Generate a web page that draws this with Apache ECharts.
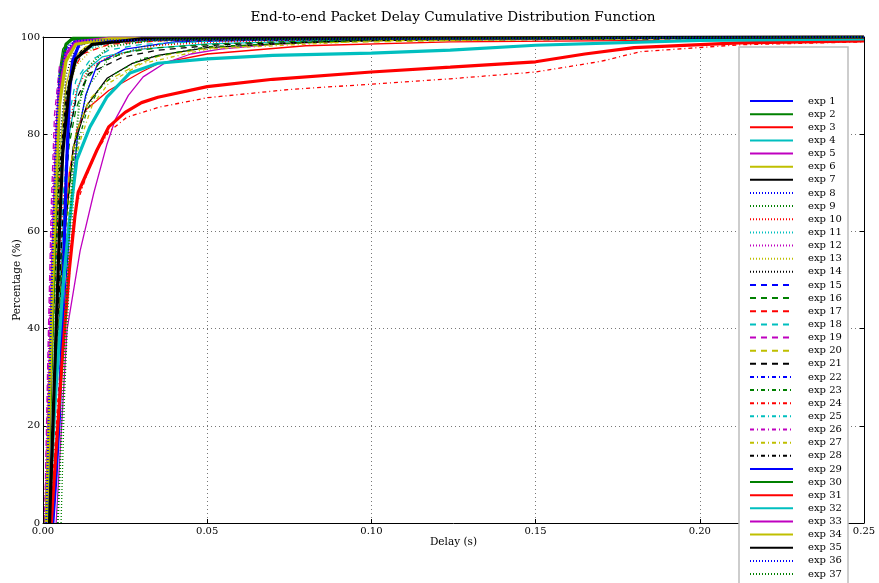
<!DOCTYPE html>
<html><head><meta charset="utf-8">
<script src="https://cdn.jsdelivr.net/npm/echarts@6/dist/echarts.min.js"></script>
<style>html,body{margin:0;padding:0;background:#fff}#c{width:879px;height:583px}</style>
</head><body><div id="c"></div>
<script>
// [delay (s), percentage (%)]
const exp1 = [[0.003,0],[0.005,25],[0.007,50],[0.009,68],[0.0104,79],[0.013,88],[0.0167,94.6],[0.025,97.5],[0.04,99],[0.1,99.7],[0.25,100]];
const exp2 = [[0.001,0],[0.002,25],[0.003,55],[0.004,80],[0.005,93],[0.006,97.5],[0.008,99.3],[0.02,99.8],[0.25,100]];
const exp3 = [[0.002,0],[0.004,30],[0.006,55],[0.008,72],[0.0104,81],[0.013,85],[0.02,89],[0.03,92.8],[0.035,94.5],[0.05,96.5],[0.08,98.2],[0.124,99],[0.25,99.6]];
const exp4 = [[0.002,0],[0.004,35],[0.006,60],[0.008,80],[0.0104,89],[0.0122,92.6],[0.018,95.9],[0.03,97.5],[0.05,98.6],[0.1,99.5],[0.25,100]];
const exp5 = [[0.004,0],[0.0073,39.7],[0.0113,56],[0.0155,68],[0.0195,78],[0.022,83],[0.026,88],[0.0305,91.8],[0.037,94.6],[0.045,96.5],[0.054,97.5],[0.07,98.5],[0.1,99.4],[0.15,99.7],[0.25,100]];
const exp6 = [[0.001,0],[0.003,40],[0.005,75],[0.007,90],[0.009,95.5],[0.013,98],[0.02,99.2],[0.05,99.8],[0.25,100]];
const exp7 = [[0.002,0],[0.004,30],[0.006,55],[0.0092,77.4],[0.0134,86],[0.0195,91.5],[0.027,94.5],[0.035,96.2],[0.05,97.8],[0.08,98.9],[0.12,99.5],[0.25,100]];
const exp8 = [[0.001,0],[0.002,30],[0.003,60],[0.004,82],[0.005,93],[0.007,98],[0.01,99.4],[0.03,99.9],[0.25,100]];
const exp9 = [[0.0055,0],[0.0065,25],[0.008,50],[0.0095,70],[0.011,82],[0.014,90],[0.02,95.5],[0.03,98],[0.05,99.3],[0.1,99.8],[0.25,100]];
const exp10 = [[0.002,0],[0.004,35],[0.006,65],[0.008,82],[0.0104,89.7],[0.014,93.5],[0.02,96],[0.035,98.3],[0.054,99],[0.1,99.6],[0.25,100]];
const exp11 = [[0.001,0],[0.003,40],[0.005,72],[0.007,88],[0.009,94],[0.012,97],[0.02,98.8],[0.05,99.6],[0.25,100]];
const exp12 = [[0.0005,0],[0.0015,30],[0.0025,60],[0.0035,80],[0.0045,90],[0.006,95.5],[0.008,98],[0.012,99.2],[0.03,99.8],[0.25,100]];
const exp13 = [[0.001,0],[0.003,35],[0.005,70],[0.007,87],[0.01,94],[0.015,97.5],[0.025,99],[0.06,99.7],[0.25,100]];
const exp14 = [[0.001,0],[0.003,45],[0.005,78],[0.007,92],[0.009,96.5],[0.012,98.5],[0.02,99.5],[0.25,100]];
const exp15 = [[0.001,0],[0.002,30],[0.003,58],[0.004,78],[0.005,90],[0.007,96.5],[0.01,99],[0.02,99.7],[0.25,100]];
const exp16 = [[0.002,0],[0.004,35],[0.006,62],[0.008,78],[0.01,85],[0.013,91],[0.0174,94.8],[0.025,96.8],[0.035,97.8],[0.054,98.6],[0.08,99.2],[0.15,99.6],[0.25,100]];
const exp17 = [[0.001,0],[0.003,40],[0.005,70],[0.007,87],[0.009,93],[0.012,96.5],[0.02,98.5],[0.04,99.4],[0.25,100]];
const exp18 = [[0.002,0],[0.004,38],[0.006,66],[0.008,84],[0.01,91],[0.014,95],[0.02,97.3],[0.03,98.5],[0.06,99.4],[0.25,100]];
const exp19 = [[0.0005,0],[0.0015,35],[0.0025,65],[0.0035,84],[0.005,94],[0.007,97.8],[0.01,99.2],[0.02,99.8],[0.25,100]];
const exp20 = [[0.002,0],[0.004,30],[0.006,55],[0.008,72],[0.01,80],[0.014,87],[0.0195,91],[0.0295,94.6],[0.035,96],[0.05,97.7],[0.08,98.8],[0.15,99.5],[0.25,100]];
const exp21 = [[0.002,0],[0.004,35],[0.006,62],[0.008,80],[0.01,87],[0.014,92.5],[0.0244,95.9],[0.035,97.3],[0.054,98.4],[0.1,99.3],[0.25,99.8]];
const exp22 = [[0.001,0],[0.002,32],[0.003,62],[0.004,82],[0.005,92],[0.007,97.5],[0.01,99.3],[0.25,100]];
const exp23 = [[0.002,0],[0.004,30],[0.006,55],[0.009,74],[0.0134,85],[0.0174,89.5],[0.022,92.5],[0.03,95.5],[0.05,98],[0.1,99.4],[0.25,100]];
const exp24 = [[0.002,0],[0.004,20],[0.006,40],[0.008,55],[0.01,65],[0.013,71],[0.016,76],[0.02,80.5],[0.0256,83.5],[0.0356,85.6],[0.05,87.5],[0.075,89.2],[0.1,90.3],[0.124,91.4],[0.15,92.8],[0.17,95],[0.182,97],[0.212,98.4],[0.25,99]];
const exp25 = [[0.001,0],[0.003,38],[0.005,70],[0.007,87],[0.009,94],[0.013,97.5],[0.02,99],[0.05,99.7],[0.25,100]];
const exp26 = [[0.0005,0],[0.002,40],[0.003,65],[0.004,82],[0.006,94],[0.008,97.8],[0.012,99.3],[0.25,100]];
const exp27 = [[0.002,0],[0.004,28],[0.006,50],[0.008,66],[0.011,78],[0.015,86],[0.02,90.5],[0.03,94.5],[0.05,97.5],[0.1,99.2],[0.25,100]];
const exp28 = [[0.001,0],[0.003,40],[0.005,72],[0.007,88],[0.009,94.5],[0.012,97.5],[0.02,99.2],[0.25,100]];
const exp29 = [[0.003,0],[0.004,10],[0.005,22],[0.006,45],[0.007,70],[0.008,88],[0.009,95],[0.011,98.5],[0.015,99.3],[0.03,99.7],[0.25,100]];
const exp30 = [[0.001,0],[0.002,20],[0.003,45],[0.004,70],[0.005,88],[0.006,95],[0.007,98.5],[0.009,99.7],[0.25,100]];
const exp31 = [[0.0025,0],[0.004,15],[0.006,35],[0.008,52],[0.0097,63],[0.0107,68],[0.0164,76.7],[0.02,81.5],[0.025,84.5],[0.03,86.5],[0.035,87.6],[0.05,89.8],[0.07,91.3],[0.1,92.8],[0.124,93.8],[0.15,94.9],[0.165,96.5],[0.18,97.8],[0.212,98.8],[0.25,99.2]];
const exp32 = [[0.0015,0],[0.004,28],[0.006,48],[0.008,62],[0.0103,74.7],[0.0143,81.5],[0.0195,87.7],[0.0265,92.6],[0.035,94.6],[0.05,95.5],[0.07,96.2],[0.1,96.7],[0.124,97.3],[0.15,98.3],[0.2,99.3],[0.25,99.6]];
const exp33 = [[0.001,0],[0.002,28],[0.003,55],[0.004,76],[0.005,89],[0.007,96.5],[0.01,99],[0.02,99.7],[0.25,100]];
const exp34 = [[0.001,0],[0.002,25],[0.003,50],[0.004,72],[0.005,86],[0.007,95],[0.01,98.5],[0.02,99.6],[0.25,100]];
const exp35 = [[0.002,0],[0.003,20],[0.004,40],[0.005,60],[0.006,76],[0.008,90],[0.01,95.5],[0.015,98.5],[0.03,99.6],[0.25,100]];
const exp36 = [[0.001,0],[0.002,30],[0.003,58],[0.004,80],[0.005,92],[0.007,97.5],[0.01,99.3],[0.25,100]];
const exp37 = [[0.0045,0],[0.006,25],[0.0075,52],[0.009,72],[0.011,86],[0.014,94],[0.02,98],[0.035,99.5],[0.25,100]];

const curves = [exp1,exp2,exp3,exp4,exp5,exp6,exp7,exp8,exp9,exp10,exp11,exp12,exp13,exp14,exp15,exp16,exp17,exp18,exp19,exp20,exp21,exp22,exp23,exp24,exp25,exp26,exp27,exp28,exp29,exp30,exp31,exp32,exp33,exp34,exp35,exp36,exp37];
const names = curves.map((_, i) => 'exp ' + (i + 1));
const xTickLabels = ['0.00','0.05','0.10','0.15','0.20','0.25'];
const yTickLabels = ['0','20','40','60','80','100'];

const palette = ['#0000ff','#008000','#ff0000','#00bfbf','#bf00bf','#bfbf00','#000000'];
const styles = [
  {type:'solid', width:1.3},
  {type:[1,2], width:1.3},
  {type:[6,5], width:1.3},
  {type:[4,3,1,3], width:1.3},
  {type:'solid', width:3.2},
  {type:[1,2], width:2}
];
const FONT = 'DejaVu Serif';

const series = curves.map((d, i) => ({
  name: names[i],
  type: 'line',
  data: d,
  symbol: 'none',
  xAxisIndex: 0, yAxisIndex: 0,
  animation: false,
  lineStyle: {color: palette[i % 7], type: styles[Math.floor(i / 7)].type, width: styles[Math.floor(i / 7)].width},
  itemStyle: {color: palette[i % 7]},
  z: 2
}));

const chart = echarts.init(document.getElementById('c'), null, {renderer: 'canvas'});
chart.setOption({
  animation: false,
  backgroundColor: '#fff',
  title: {
    text: 'End-to-end Packet Delay Cumulative Distribution Function',
    left: 453, top: 10, textAlign: 'center', padding: 0,
    textStyle: {fontFamily: FONT, fontSize: 13.6, fontWeight: 'normal', color: '#000'}
  },
  grid: {left: 43, right: 15, top: 37, bottom: 60, containLabel: false, outerBoundsMode: 'none', show: false},
  xAxis: [{
    type: 'value', min: 0, max: 0.25, interval: 0.05, position: 'bottom',
    name: 'Delay (s)', nameLocation: 'middle', nameGap: 14, nameMoveOverlap: false,
    nameTextStyle: {fontFamily: FONT, fontSize: 10.5, color: '#000'},
    axisLine: {show: true, onZero: false, lineStyle: {color: '#000', width: 1}},
    axisTick: {show: true, inside: true, length: 4, lineStyle: {color: '#000'}},
    axisLabel: {fontFamily: FONT, fontSize: 10, color: '#000', margin: 3,
      formatter: (v) => xTickLabels[Math.round(v / 0.05)]},
    splitLine: {show: true, lineStyle: {color: '#777', width: 1, type: [1, 3]}}
  }, {
    type: 'value', min: 0, max: 0.25, interval: 0.05, position: 'top',
    axisLine: {show: true, onZero: false, lineStyle: {color: '#000', width: 1}},
    axisTick: {show: true, inside: true, length: 4, lineStyle: {color: '#000'}},
    axisLabel: {show: false}, splitLine: {show: false}
  }],
  yAxis: [{
    type: 'value', min: 0, max: 100, interval: 20, position: 'left',
    name: 'Percentage (%)', nameLocation: 'middle', nameGap: 20, nameMoveOverlap: false,
    nameTextStyle: {fontFamily: FONT, fontSize: 10.5, color: '#000'},
    axisLine: {show: true, onZero: false, lineStyle: {color: '#000', width: 1}},
    axisTick: {show: true, inside: true, length: 4, lineStyle: {color: '#000'}},
    axisLabel: {fontFamily: FONT, fontSize: 10, color: '#000', margin: 3,
      formatter: (v) => yTickLabels[Math.round(v / 20)]},
    splitLine: {show: true, lineStyle: {color: '#777', width: 1, type: [1, 3]}}
  }, {
    type: 'value', min: 0, max: 100, interval: 20, position: 'right',
    axisLine: {show: true, onZero: false, lineStyle: {color: '#000', width: 1}},
    axisTick: {show: true, inside: true, length: 4, lineStyle: {color: '#000'}},
    axisLabel: {show: false}, splitLine: {show: false}
  }],
  legend: {
    show: true, orient: 'vertical', left: 749, top: 95, height: 700, padding: 0,
    itemWidth: 43, itemHeight: 8, itemGap: 1.14,
    data: names,
    selectedMode: false,
    itemStyle: {color: 'rgba(0,0,0,0)', borderWidth: 0, opacity: 0},
    textStyle: {fontFamily: FONT, fontSize: 10, color: '#000', lineHeight: 12, padding: [0, 0, 0, 10]},
    z: 10
  },
  graphic: [{
    type: 'rect', z: 5, silent: true,
    shape: {x: 739, y: 47, width: 109, height: 560},
    style: {fill: '#fff', stroke: '#bdbdbd', lineWidth: 1.5}
  }],
  series: series
});
</script></body></html>
